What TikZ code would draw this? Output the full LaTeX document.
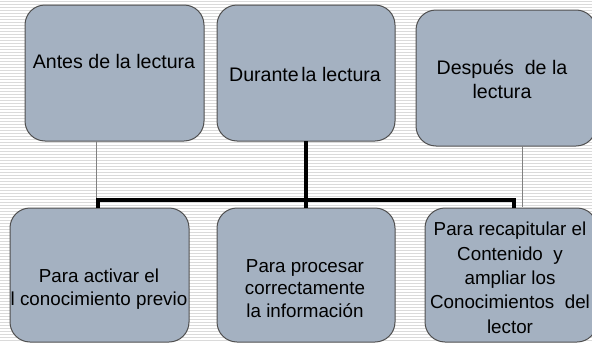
\documentclass[tikz,border=0pt]{standalone}
\usepackage{fontspec}
\setmainfont{Liberation Sans}
\definecolor{boxfill}{RGB}{164,177,193}
\definecolor{boxline}{RGB}{80,80,80}
\definecolor{stripe}{RGB}{218,218,218}
\definecolor{thinline}{RGB}{128,128,128}
\begin{document}
\begin{tikzpicture}[x=1pt,y=-1pt,
  box/.style={draw=boxline, line width=1pt, fill=boxfill, rounded corners=20pt, inner sep=0pt, outer sep=0pt},
  toptext/.style={font=\fontsize{19.6}{24}\selectfont, align=center, inner sep=0pt, anchor=base},
  bottext/.style={font=\fontsize{18.8}{22.5}\selectfont, align=center, inner sep=0pt, anchor=base},
  thinconn/.style={draw=thinline, line width=0.8pt},
  barconn/.style={draw=black, line width=4pt, line join=miter}]
\useasboundingbox (0,0) rectangle (592,343);
\clip (0,0) rectangle (592,343);
\fill[white] (0,0) rectangle (592,343);
\foreach \y in {1.5,4.5,...,343} \draw[stripe, line width=1pt] (0,\y) -- (592,\y);
% top boxes
\node[box, minimum width=179pt, minimum height=136pt] (t1) at (114.5,73) {};
\node[box, minimum width=178pt, minimum height=136pt] (t2) at (306,73) {};
\node[box, minimum width=180pt, minimum height=136pt] (t3) at (506,78) {};
% bottom boxes
\node[box, minimum width=179pt, minimum height=134pt] (b1) at (99.5,275) {};
\node[box, minimum width=178pt, minimum height=134pt] (b2) at (306,275) {};
\node[box, minimum width=172pt, minimum height=134pt] (b3) at (511,275) {};
% texts (anchor base = baseline of the last line)
\node[toptext] (t1txt) at (114,68) {Antes de la lectura};
\node[toptext] (t2txt) at (305,81) {Durante\kern2.5pt la lectura};
\node[toptext] (t3txt) at (502,98) {Después\ \ de la\\lectura};
\node[bottext] (b1txt) at (99,305) {Para activar el\\l conocimiento previo};
\node[bottext] (b2txt) at (305,317) {Para procesar\\correctamente\\la información};
\node[bottext, font=\fontsize{18.8}{24.3}\selectfont] (b3txt) at (510,333) {Para recapitular el\\Contenido\ \ y\\ampliar los\\Conocimientos\ \ del\\lector};
% connectors
\coordinate (barL) at (98,200);
\coordinate (barR) at (514,200);
\coordinate (j1) at (96,199);
\coordinate (j3) at (522,207);
\draw[thinconn] (t1.south -| j1) -- (j1);
\draw[thinconn] (t3.south -| j3) -- (j3);
\draw[barconn] (b1.north -| barL) -- (barL) -- (barR) -- (b3.north -| barR);
\draw[barconn] (t2.south) -- (b2.north);
\end{tikzpicture}
\end{document}
